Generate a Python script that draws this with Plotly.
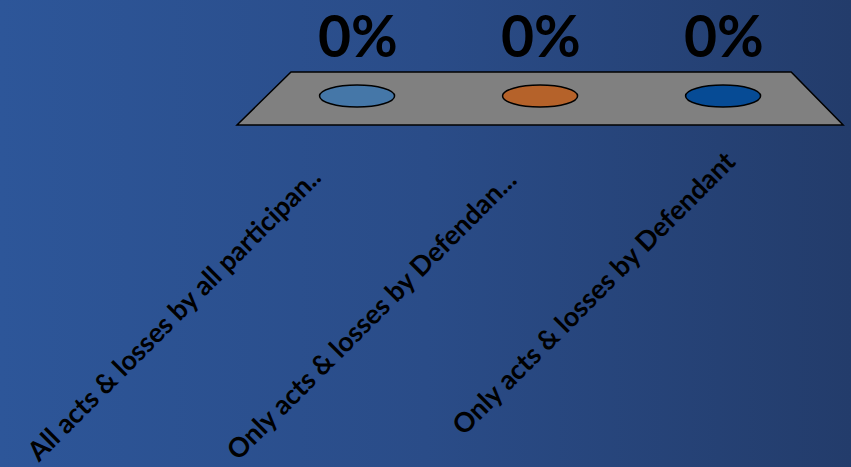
import plotly.graph_objects as go

# ---- data ----
categories = [
    "All acts & losses by all participan..",
    "Only acts & losses by Defendan...",
    "Only acts & losses by Defendant",
]
values = [0, 0, 0]  # percent
value_labels = ["0%", "0%", "0%"]
bar_colors = ["#4577a8", "#b5622a", "#064b95"]

# ---- styles / layout helpers ----
W, H = 851, 467
X_RANGE = [-1.951, 2.699]   # category 0 at ~357px, spacing ~183px
Y_RANGE = [-3.71, 0.96]     # y=0 at ~96px, 1 unit = 100px
label_xshift = [-27, -15, 21]
label_yshift = [-61, -64, -46]
half_w = 0.205
half_h = 0.11

idx = list(range(len(categories)))

fig = go.Figure()

# background gradient (decoration)
fig.add_trace(go.Scatter(
    x=[X_RANGE[0], X_RANGE[1], X_RANGE[1], X_RANGE[0], X_RANGE[0]],
    y=[Y_RANGE[0], Y_RANGE[0], Y_RANGE[1], Y_RANGE[1], Y_RANGE[0]],
    mode="lines", line=dict(width=0), fill="toself",
    fillgradient=dict(type="horizontal",
                      colorscale=[[0, "#2d5699"], [0.5, "#2a4c88"], [1, "#233c6b"]]),
    hoverinfo="skip", showlegend=False,
))

# zero-height bars (data)
fig.add_trace(go.Bar(
    x=idx, y=values, marker_color=bar_colors, width=0.41,
    showlegend=False, hoverinfo="skip",
))

shapes = []
# gray floor
shapes.append(dict(
    type="path", xref="x", yref="y",
    path="M -0.361,0.24 L 2.372,0.24 L 2.656,-0.29 L -0.656,-0.29 Z",
    fillcolor="#808080", line=dict(color="black", width=1.5), layer="above",
))
# tops of the zero-height cylinders
for i, v, c in zip(idx, values, bar_colors):
    shapes.append(dict(
        type="circle", xref="x", yref="y",
        x0=i - half_w, x1=i + half_w, y0=v / 100 - half_h, y1=v / 100 + half_h,
        fillcolor=c, line=dict(color="black", width=1.5), layer="above",
    ))

annotations = []
for i, v, t in zip(idx, values, value_labels):
    annotations.append(dict(
        x=i, y=v / 100, xref="x", yref="y", text=t, showarrow=False,
        yshift=61, xshift=1,
        font=dict(family="Lato", size=57, color="black", weight="bold"),
    ))
for i, cat, xs, ys in zip(idx, categories, label_xshift, label_yshift):
    annotations.append(dict(
        x=i, y=0, xref="x", yref="y", text=cat, showarrow=False,
        textangle=-45, xanchor="right", yanchor="top", xshift=xs, yshift=ys,
        font=dict(family="Lato", size=27, color="black", weight="bold"),
    ))

fig.update_layout(
    width=W, height=H, margin=dict(l=0, r=0, t=0, b=0),
    paper_bgcolor="#2a4c88", plot_bgcolor="rgba(0,0,0,0)",
    shapes=shapes, annotations=annotations,
    xaxis=dict(range=X_RANGE, visible=False, fixedrange=True),
    yaxis=dict(range=Y_RANGE, visible=False, fixedrange=True),
    bargap=0,
)

fig.write_html(
    "out.html",
    config={"displayModeBar": False},
    post_script="document.body.style.margin='0';document.body.style.overflow='hidden';",
)
